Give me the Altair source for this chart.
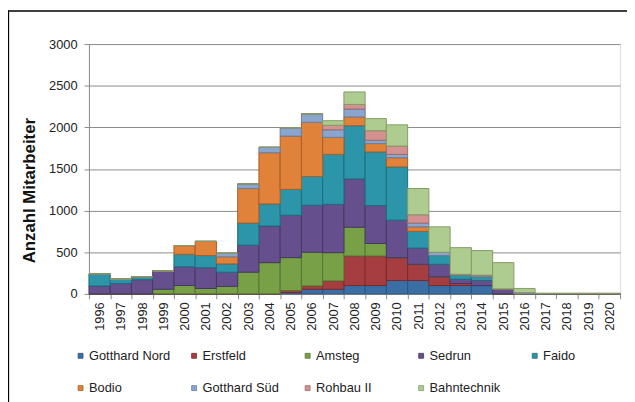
import altair as alt
import pandas as pd

years = [str(y) for y in range(1996, 2021)]

series = ["Gotthard Nord", "Erstfeld", "Amsteg", "Sedrun", "Faido",
          "Bodio", "Gotthard Süd", "Rohbau II", "Bahntechnik"]

#              96  97  98  99  00  01  02  03  04  05  06  07  08  09  10  11  12  13  14  15  16 17 18 19 20
gotthard_nord = [0, 0, 0, 0, 0, 0, 0, 0, 0, 15, 55, 55, 100, 100, 160, 160, 100, 100, 100, 0, 0, 0, 0, 0, 0]
erstfeld = [0, 0, 0, 0, 0, 0, 0, 0, 0, 25, 40, 100, 355, 355, 275, 195, 105, 25, 0, 0, 0, 0, 0, 0, 0]
amsteg = [0, 0, 0, 55, 100, 65, 90, 260, 375, 395, 405, 340, 345, 150, 0, 0, 0, 0, 0, 0, 0, 0, 0, 0, 0]
sedrun = [95, 125, 170, 220, 225, 250, 170, 325, 440, 510, 565, 580, 580, 455, 450, 195, 150, 50, 60, 60, 0, 0, 0, 0, 0]
faido = [145, 50, 35, 0, 150, 145, 100, 265, 265, 310, 345, 600, 640, 645, 640, 200, 105, 50, 45, 0, 0, 0, 0, 0, 0]
bodio = [0, 0, 0, 0, 105, 170, 85, 415, 615, 640, 650, 205, 105, 100, 110, 55, 0, 0, 0, 0, 0, 0, 0, 0, 0]
gotthard_sued = [0, 0, 0, 0, 0, 0, 42, 55, 65, 100, 100, 90, 95, 40, 40, 45, 40, 10, 20, 0, 15, 5, 5, 5, 5]
rohbau_ii = [0, 0, 0, 0, 0, 0, 0, 0, 0, 0, 0, 55, 55, 115, 100, 100, 0, 0, 0, 0, 0, 0, 0, 0, 0]
bahntechnik = [0, 0, 0, 0, 0, 0, 0, 0, 0, 0, 0, 55, 150, 145, 255, 315, 305, 320, 295, 315, 50, 0, 0, 0, 0]

values = [gotthard_nord, erstfeld, amsteg, sedrun, faido, bodio,
          gotthard_sued, rohbau_ii, bahntechnik]

fill_colors = ["#3A6EA5", "#A63D40", "#77A047", "#65508D", "#2C95AA",
               "#E0823A", "#8AA6CF", "#D39290", "#AECB90"]
stroke_colors = ["#2A5280", "#7A2A2C", "#557534", "#463766", "#1E6E7E",
                 "#A85E28", "#667FA3", "#A06A68", "#829C68"]

rows = []
for i, (name, vals) in enumerate(zip(series, values)):
    for y, v in zip(years, vals):
        rows.append({"Jahr": y, "Baustelle": name, "Anzahl": v, "order": i})
df = pd.DataFrame(rows)

font = "Liberation Sans"

bars = alt.Chart(df).mark_bar(strokeWidth=1).encode(
    x=alt.X("Jahr:N", sort=years,
            scale=alt.Scale(paddingInner=0, paddingOuter=0),
            axis=alt.Axis(title=None, labelAngle=-90, labelAlign="right",
                          labelBaseline="middle", labelFontSize=13,
                          labelPadding=3, tickBand="extent", tickSize=5,
                          domainColor="#8a8a8a", tickColor="#8a8a8a",
                          labelColor="#222222", labelFont=font)),
    y=alt.Y("Anzahl:Q", stack="zero",
            scale=alt.Scale(domain=[0, 3000], nice=False),
            axis=alt.Axis(title="Anzahl Mitarbeiter", values=[0, 500, 1000, 1500, 2000, 2500, 3000],
                          format="d",
                          grid=True, gridColor="#8a8a8a", gridWidth=1,
                          tickSize=5, tickColor="#8a8a8a", domainColor="#8a8a8a",
                          labelFontSize=13, labelPadding=7, labelColor="#222222",
                          labelFont=font, titleFont=font, titleFontSize=17,
                          titleFontWeight="bold", titleColor="#111111",
                          titleX=-60, titleY=148, titleAngle=-90,
                          titleAlign="center", titleBaseline="middle")),
    color=alt.Color("Baustelle:N", sort=series,
                    scale=alt.Scale(domain=series, range=fill_colors),
                    legend=alt.Legend(title=None, orient="none", legendX=-15, legendY=309,
                                      columns=5, gridAlign="all", symbolType="square",
                                      symbolSize=25, symbolStrokeWidth=0.8,
                                      labelFontSize=13, labelFont=font, labelColor="#222222",
                                      labelOffset=2, columnPadding=17, rowPadding=19,
                                      labelLimit=200, direction="horizontal")),
    stroke=alt.Stroke("Baustelle:N", sort=series,
                      scale=alt.Scale(domain=series, range=stroke_colors),
                      legend=None),
    order=alt.Order("order:Q", sort="ascending"),
)

frame_df = pd.DataFrame({"k": [0]})
left_line = alt.Chart(frame_df).mark_rule(color="#000000", strokeWidth=1.3).encode(
    x=alt.value(-81.5), y=alt.value(-34), y2=alt.value(400))
top_line = alt.Chart(frame_df).mark_rule(color="#000000", strokeWidth=1.3).encode(
    x=alt.value(-82), x2=alt.value(600), y=alt.value(-33.5))

chart = alt.layer(bars, left_line, top_line).properties(
    width=538, height=253,
    autosize=alt.AutoSizeParams(type="none"),
    padding={"left": 82, "top": 34, "right": 7, "bottom": 107},
).configure_view(fill="#F4F4F4", strokeWidth=0).configure(background="#FFFFFF")

chart.save("out.html", embed_options={"renderer": "svg", "actions": False})
